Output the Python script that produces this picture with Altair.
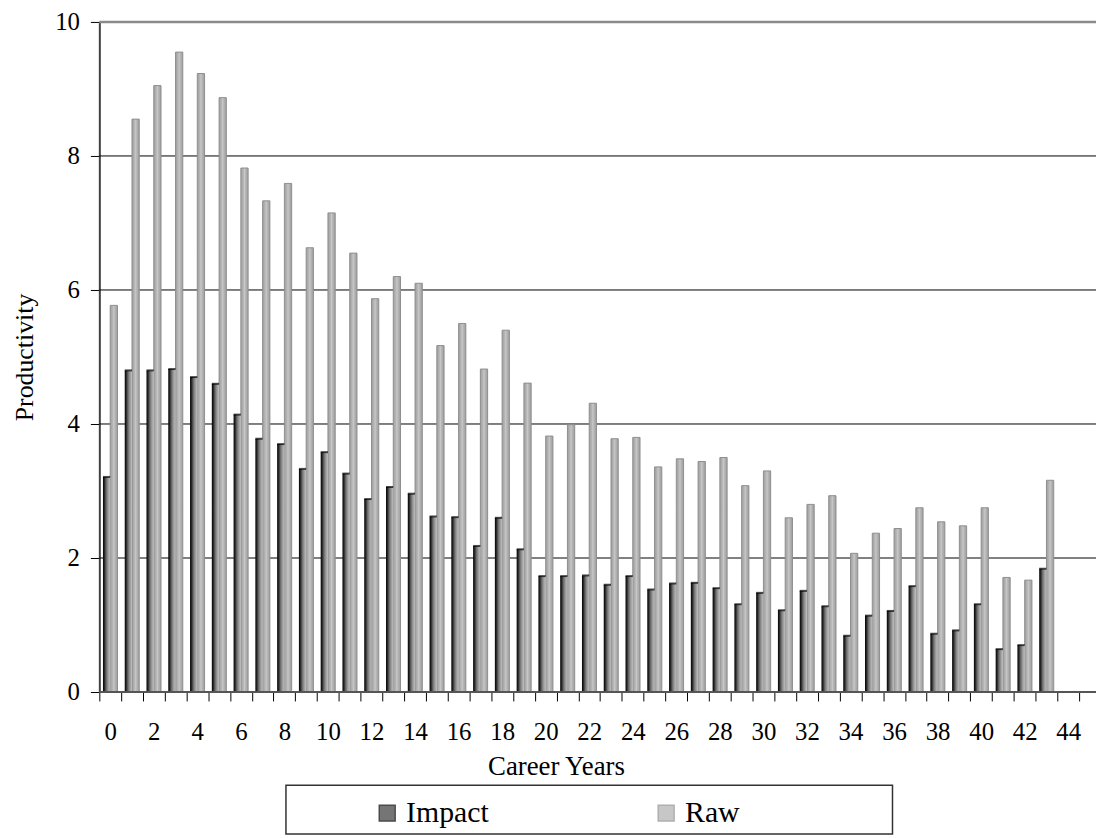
import altair as alt
import pandas as pd

# ---- data ----
years = list(range(0, 44))
impact = [3.21, 4.80, 4.80, 4.82, 4.70, 4.60, 4.14, 3.78, 3.70, 3.33,
          3.58, 3.26, 2.88, 3.06, 2.96, 2.62, 2.61, 2.18, 2.60, 2.13,
          1.73, 1.73, 1.74, 1.60, 1.73, 1.53, 1.62, 1.63, 1.55, 1.31,
          1.48, 1.22, 1.51, 1.28, 0.84, 1.14, 1.21, 1.58, 0.87, 0.92,
          1.31, 0.64, 0.70, 1.84]
raw = [5.77, 8.55, 9.05, 9.55, 9.23, 8.87, 7.82, 7.33, 7.59, 6.63,
       7.15, 6.55, 5.87, 6.20, 6.10, 5.17, 5.50, 4.82, 5.40, 4.61,
       3.82, 3.99, 4.31, 3.78, 3.80, 3.36, 3.48, 3.44, 3.50, 3.08,
       3.30, 2.60, 2.80, 2.93, 2.07, 2.37, 2.44, 2.75, 2.54, 2.48,
       2.75, 1.71, 1.67, 3.16]
series_names = ["Impact", "Raw"]
x_domain = list(range(0, 45))
y_ticks = [0, 2, 4, 6, 8, 10]
grid_vals = [2, 4, 6, 8]
top_vals = [10]
base_vals = [0]

rows = []
for i, yr in enumerate(years):
    rows.append({"year": yr, "series": "Impact", "value": impact[i]})
    rows.append({"year": yr, "series": "Raw", "value": raw[i]})
df = pd.DataFrame(rows)

FONT = "Liberation Serif, Times New Roman, serif"
W = 1004
H = 675
BAND_RANGE = 987

xscale = alt.Scale(domain=x_domain, range=[0, BAND_RANGE], paddingInner=0, paddingOuter=0)
yscale = alt.Scale(domain=[0, 10], nice=False, zero=True)
offscale = alt.Scale(domain=series_names, paddingInner=0, paddingOuter=0.5)

x_enc = alt.X(
    "year:O", scale=xscale,
    axis=alt.Axis(
        title="Career Years", titleFont=FONT, titleFontSize=27, titleFontWeight="normal",
        titleColor="black", titleBaseline="middle", titleY=75, titleX=460,
        labelFont=FONT, labelFontSize=25, labelFontWeight="normal", labelColor="black", labelAngle=0,
        labelPadding=19, labelExpr="datum.value % 2 === 0 ? datum.label : ''",
        tickBand="extent", tickSize=9, tickColor="black", tickWidth=1,
        domain=False, grid=False,
    ),
)
y_enc = alt.Y(
    "value:Q", scale=yscale,
    axis=alt.Axis(
        title="Productivity", titleFont=FONT, titleFontSize=26, titleFontWeight="normal",
        titleColor="black", titleAngle=270, titleBaseline="middle", titleX=-75, titleY=337.5,
        labelFont=FONT, labelFontSize=25, labelFontWeight="normal", labelColor="black",
        labelPadding=11, format="d",
        values=y_ticks, tickSize=9, tickColor="black", tickWidth=1,
        domain=True, domainColor="#404040", domainWidth=2, grid=False,
    ),
)
off_enc = alt.XOffset("series:N", scale=offscale)

impact_grad = alt.Gradient(
    gradient="linear", x1=0, x2=1, y1=0, y2=0,
    stops=[
        alt.GradientStop(color="#000000", offset=0),
        alt.GradientStop(color="#2a2a2a", offset=0.22),
        alt.GradientStop(color="#6a6a6a", offset=0.45),
        alt.GradientStop(color="#989898", offset=0.7),
        alt.GradientStop(color="#c0c0c0", offset=1),
    ],
)
raw_grad = alt.Gradient(
    gradient="linear", x1=0, x2=1, y1=0, y2=0,
    stops=[
        alt.GradientStop(color="#9e9e9e", offset=0),
        alt.GradientStop(color="#b6b6b6", offset=0.35),
        alt.GradientStop(color="#c8c8c8", offset=0.5),
        alt.GradientStop(color="#b6b6b6", offset=0.65),
        alt.GradientStop(color="#9e9e9e", offset=1),
    ],
)

base = alt.Chart(df)

grid = alt.Chart(pd.DataFrame({"g": grid_vals})).mark_rule(color="black", strokeWidth=1).encode(
    y=alt.Y("g:Q", scale=yscale), x=alt.value(0), x2=alt.value(W)
)
top = alt.Chart(pd.DataFrame({"g": top_vals})).mark_rule(color="#8a8a8a", strokeWidth=2.5).encode(
    y=alt.Y("g:Q", scale=yscale), x=alt.value(0), x2=alt.value(W)
)

impact_bars = base.transform_filter(alt.datum.series == "Impact").mark_bar(
    fill=impact_grad, strokeWidth=0
).encode(x=x_enc, xOffset=off_enc, y=y_enc)

impact_top = base.transform_filter(alt.datum.series == "Impact").mark_tick(
    color="black", thickness=2, size=7.3
).encode(x=x_enc, xOffset=off_enc, y=y_enc)

raw_bars = base.transform_filter(alt.datum.series == "Raw").mark_bar(
    fill=raw_grad, stroke="#8e8e8e", strokeWidth=1
).encode(x=x_enc, xOffset=off_enc, y=y_enc)

baseline = alt.Chart(pd.DataFrame({"g": base_vals})).mark_rule(color="#555555", strokeWidth=2).encode(
    y=alt.Y("g:Q", scale=yscale), x=alt.value(0), x2=alt.value(W)
)

legend_box = alt.Chart(pd.DataFrame({"a": [0]})).mark_rect(
    fill="white", stroke="#333333", strokeWidth=1.5
).encode(x=alt.value(188), x2=alt.value(799), y=alt.value(769), y2=alt.value(818))

leg = alt.Legend(
    title=None, orient="none", legendX=275, legendY=782, direction="horizontal",
    columnPadding=163, labelFont=FONT, labelFontSize=30, labelFontWeight="normal",
    labelColor="black", labelOffset=4, symbolType="square", symbolSize=256,
    symbolStrokeWidth=1.5, padding=0,
)
legend_layer = base.transform_filter(alt.datum.value < 0).mark_square().encode(
    color=alt.Color(
        "series:N",
        scale=alt.Scale(domain=series_names, range=["#3c3c3c", "#b0b0b0"]),
        legend=leg,
    ),
    stroke=alt.Stroke(
        "series:N",
        scale=alt.Scale(domain=series_names, range=["#000000", "#8e8e8e"]),
        legend=leg,
    ),
)

chart = alt.layer(
    grid, top, raw_bars, impact_bars, impact_top, baseline, legend_box, legend_layer
).properties(
    width=W, height=H,
    padding={"left": 92, "top": 11, "right": 0, "bottom": 144},
    autosize=alt.AutoSizeParams(type="none"),
).configure(
    background="white", font=FONT,
    style={"guide-label": {"font": FONT}, "guide-title": {"font": FONT}},
).configure_view(
    stroke=None
).configure_axis(
    labelFont=FONT, titleFont=FONT
).configure_legend(
    labelFont=FONT
)

chart.save("out.html", embed_options={"renderer": "svg", "actions": False})
